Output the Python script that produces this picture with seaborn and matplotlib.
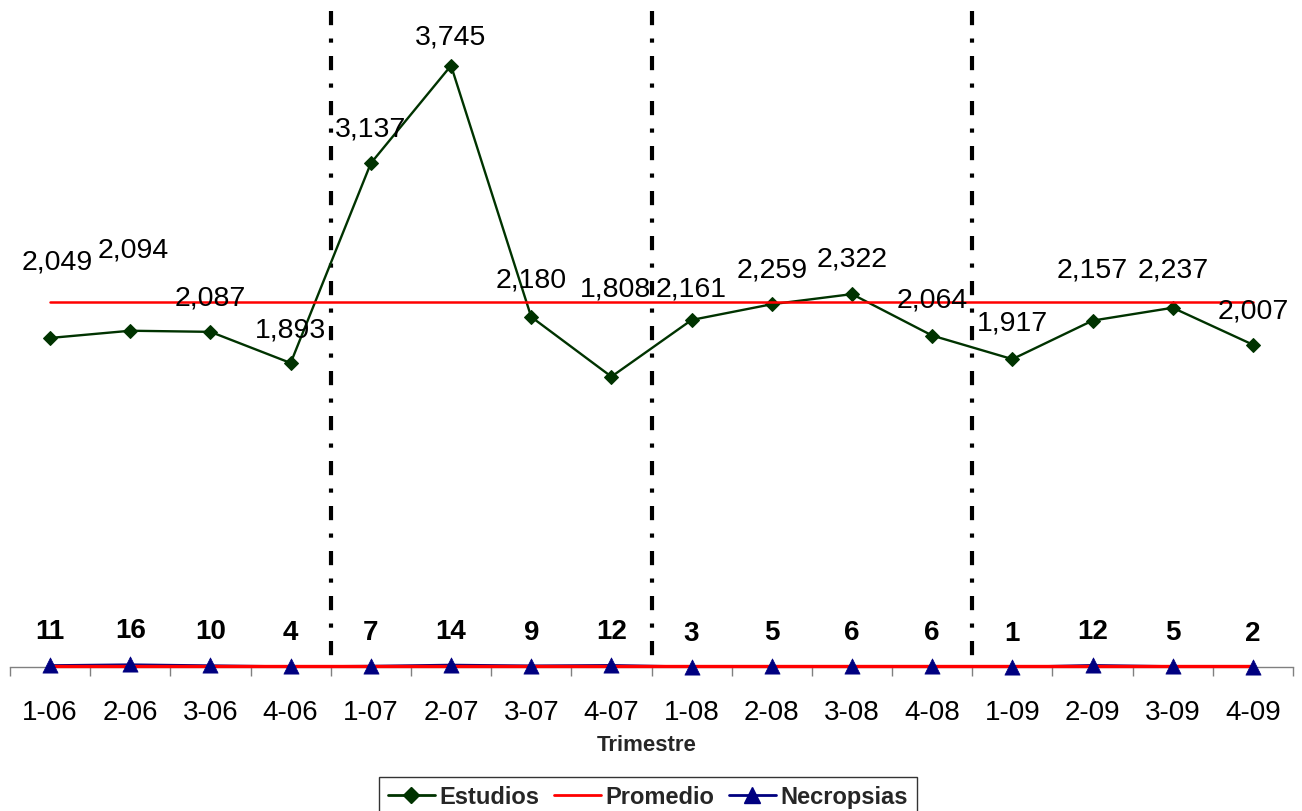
import numpy as np
import pandas as pd
import matplotlib
matplotlib.use("Agg")
import matplotlib.pyplot as plt
from matplotlib.lines import Line2D
import seaborn as sns

# ---- data ----
trimestres = ['1-06', '2-06', '3-06', '4-06', '1-07', '2-07', '3-07', '4-07',
              '1-08', '2-08', '3-08', '4-08', '1-09', '2-09', '3-09', '4-09']
estudios = [2049, 2094, 2087, 1893, 3137, 3745, 2180, 1808,
            2161, 2259, 2322, 2064, 1917, 2157, 2237, 2007]
necropsias = [11, 16, 10, 4, 7, 14, 9, 12, 3, 5, 6, 6, 1, 12, 5, 2]
promedio_estudios = 2275
promedio_necropsias = 7.7
separadores = [3.5, 7.5, 11.5]

# label offsets (pixels) for Estudios data labels
lab_dx = [7, 3, 0, 0, 0, 0, 0, 4, 0, 0, 0, 0, 0, 0, 0, 0]
lab_dy = [76, 81, 34, 34, 35, 29, 37, 88, 31, 35, 36, 36, 37, 51, 38, 34]

GREEN = '#003300'
NAVY = '#000080'
RED = '#FF0000'

sns.set_theme(style='white')
plt.rcParams['font.family'] = ['Liberation Sans', 'DejaVu Sans']

fig = plt.figure(figsize=(13.02, 8.12), dpi=100)
ax = fig.add_axes([10 / 1302, 1 - 668 / 812, 1283 / 1302, 656 / 812])

YMAX = 4085
pos = np.arange(len(trimestres))
df = pd.DataFrame({
    'pos': pos,
    'Trimestre': trimestres,
    'Estudios': estudios,
    'Necropsias': necropsias,
    'PromE': [promedio_estudios] * len(trimestres),
    'PromN': [promedio_necropsias] * len(trimestres),
})

sns.lineplot(data=df, x='pos', y='Necropsias', color=NAVY, lw=1.5, ax=ax,
             zorder=2, legend=False, clip_on=False)
sns.lineplot(data=df, x='pos', y='Estudios', color=GREEN, lw=1.7, marker='D',
             markersize=7.5, markeredgecolor=GREEN, markerfacecolor=GREEN,
             ax=ax, zorder=3, legend=False)
sns.lineplot(data=df, x='pos', y='PromE', color=RED, lw=1.8, ax=ax, zorder=4,
             legend=False)
sns.lineplot(data=df, x='pos', y='PromN', color=RED, lw=2.4, ax=ax, zorder=4,
             legend=False, clip_on=False)
sns.scatterplot(data=df, x='pos', y='Necropsias', marker='^', s=120,
                color=NAVY, edgecolor=NAVY, linewidth=0.5, ax=ax, zorder=5,
                legend=False, clip_on=False)

# dash-dot separators drawn from top downward so the pattern starts at the top
for xs in separadores:
    ax.plot([xs, xs], [YMAX, 0], color='black', lw=3.0,
            linestyle=(0, (3.4, 3.2, 1.0, 3.2)), zorder=1)

for i, v in enumerate(estudios):
    ax.annotate(f'{v:,}', (pos[i], v), xytext=(lab_dx[i], lab_dy[i]),
                textcoords='offset pixels', ha='center', va='center',
                fontsize=20.5, color='black', zorder=6)
for i, v in enumerate(necropsias):
    ax.annotate(f'{v}', (pos[i], v), xytext=(0, 34),
                textcoords='offset pixels', ha='center', va='center',
                fontsize=20, fontweight='bold', color='black', zorder=6)

ax.set_xlim(-0.5, len(trimestres) - 0.5)
ax.set_ylim(0, YMAX)
ax.set_yticks([])
ax.set_xticks(pos)
ax.set_xticklabels(trimestres, fontsize=20, color='black')
ax.set_xticks(np.arange(-0.5, len(trimestres)), minor=True)
ax.tick_params(axis='x', which='major', length=0, pad=23)
ax.tick_params(axis='x', which='minor', length=6.5, width=1, color='#808080',
               direction='out', bottom=True)
for s in ['left', 'right', 'top']:
    ax.spines[s].set_visible(False)
ax.spines['bottom'].set_color('#808080')
ax.spines['bottom'].set_linewidth(1)
ax.set_xlabel('')
ax.set_ylabel('')

fig.text(647 / 1302, 1 - 746 / 812, 'Trimestre', ha='center', va='center',
         fontsize=16, fontweight='bold')

handles = [
    Line2D([], [], color=GREEN, lw=2, marker='D', markersize=8),
    Line2D([], [], color=RED, lw=2),
    Line2D([], [], color=NAVY, lw=2, marker='^', markersize=12),
]
leg = fig.legend(handles, ['Estudios', 'Promedio', 'Necropsias'],
                 loc='upper center', bbox_to_anchor=(648 / 1302, 1 - 778 / 812),
                 ncol=3, frameon=True, fancybox=False, borderaxespad=0,
                 prop={'weight': 'bold', 'size': 17}, handlelength=2.0,
                 handletextpad=0.2, columnspacing=0.6, borderpad=0.35)
leg.get_frame().set_edgecolor('black')
leg.get_frame().set_linewidth(1)

fig.savefig('out.png', dpi=100)
